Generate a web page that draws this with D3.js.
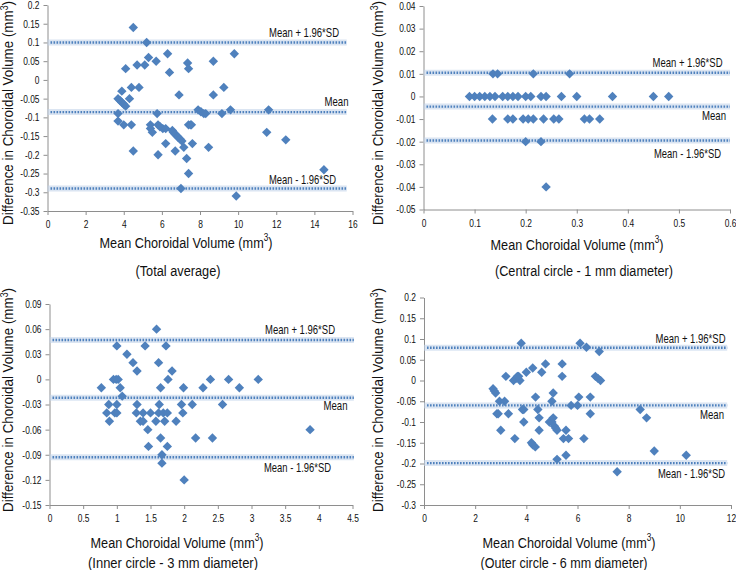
<!DOCTYPE html>
<html><head><meta charset="utf-8">
<script src="https://cdn.jsdelivr.net/npm/d3@7"></script>
<style>
body{margin:0;background:#fff}
text{font-family:"Liberation Sans",Arial,sans-serif;fill:#111}
</style>
</head><body><svg id="c" width="736" height="570"></svg>
<script>
// ---------- DATA ----------
const totalPoints = [[4.5,0.14],[5.2,0.10],[4.1,0.03],[4.7,0.04],[5.1,0.04],[5.3,0.06],[5.7,0.05],[6.3,0.07],[6.4,0.02],[6.9,-0.04],[3.9,-0.03],[4.4,-0.02],[4.8,-0.02],[4.3,-0.05],[3.7,-0.05],[3.8,-0.055],[3.9,-0.06],[4.0,-0.065],[4.1,-0.07],[3.7,-0.09],[3.7,-0.11],[4.0,-0.12],[4.4,-0.12],[4.5,-0.19],[5.75,-0.09],[5.4,-0.12],[5.4,-0.13],[5.5,-0.14],[5.8,-0.12],[5.9,-0.125],[6.05,-0.13],[6.2,-0.13],[6.2,-0.17],[5.8,-0.2],[6.55,-0.135],[6.6,-0.14],[6.7,-0.145],[6.8,-0.15],[6.85,-0.153],[6.95,-0.158],[7.05,-0.163],[6.7,-0.19],[7.15,-0.18],[7.3,-0.21],[7.4,-0.25],[7.0,-0.29],[7.4,-0.12],[7.35,0.045],[7.4,0.03],[8.7,0.05],[9.8,0.07],[9.25,-0.02],[8.7,-0.04],[7.9,-0.08],[8.05,-0.085],[8.2,-0.09],[8.3,-0.09],[9.15,-0.09],[9.6,-0.08],[11.6,-0.08],[7.5,-0.12],[7.55,-0.12],[7.6,-0.17],[8.45,-0.18],[11.5,-0.14],[12.5,-0.16],[9.9,-0.31],[14.5,-0.24]];
const centralPoints = [[0.136,0.01],[0.145,0.01],[0.215,0.01],[0.286,0.01],
 [0.09,0],[0.10,0],[0.11,0],[0.12,0],[0.13,0],[0.14,0],[0.155,0],[0.165,0],[0.175,0],[0.185,0],[0.2,0],[0.21,0],[0.23,0],[0.24,0],[0.27,0],[0.30,0],[0.37,0],[0.45,0],[0.48,0],
 [0.135,-0.01],[0.165,-0.01],[0.175,-0.01],[0.195,-0.01],[0.205,-0.01],[0.215,-0.01],[0.235,-0.01],[0.255,-0.01],[0.265,-0.01],[0.315,-0.01],[0.325,-0.01],[0.345,-0.01],
 [0.2,-0.02],[0.23,-0.02],[0.24,-0.04]];
const innerPoints = [[0.77,-0.01],[0.95,0],[0.99,0],[1.02,0],[1.0,0.04],[1.05,-0.01],[1.08,-0.02],[0.88,-0.03],[0.85,-0.04],[0.97,-0.04],[1.0,-0.04],[1.0,-0.03],[0.89,-0.05],[1.15,0.03],[1.24,0.02],[1.30,0.01],[1.3,-0.03],[1.29,-0.04],[1.35,-0.05],[1.39,-0.05],[1.39,-0.04],[1.42,0.04],[1.46,-0.06],[1.47,-0.08],[1.5,-0.04],[1.58,-0.05],[1.59,0.06],[1.62,0.02],[1.63,-0.03],[1.62,-0.04],[1.65,-0.01],[1.65,-0.07],[1.67,-0.09],[1.67,-0.1],[1.69,-0.04],[1.75,-0.04],[1.71,-0.05],[1.73,0.04],[1.76,0],[1.82,0.01],[1.75,-0.08],[1.88,-0.05],[1.96,-0.03],[1.98,-0.04],[1.99,-0.01],[2.0,-0.12],[2.12,-0.03],[2.28,-0.01],[2.39,0],[2.66,0],[2.82,-0.01],[3.10,0],[2.57,-0.03],[2.17,-0.07],[2.42,-0.07],[3.87,-0.06]];
const outerPoints = [[3.8,0.09],[2.7,-0.02],[2.75,-0.025],[2.8,-0.03],[2.95,-0.05],[3.15,-0.05],[2.85,-0.08],[2.9,-0.08],[3.3,-0.08],[3.0,-0.12],[3.2,0.01],[3.5,0],[3.6,0.005],[3.7,0.01],[3.75,0],[3.65,0.01],[3.85,-0.07],[3.9,-0.07],[3.9,-0.1],[3.55,-0.14],[4.0,0.02],[4.25,0.03],[4.36,-0.04],[4.45,-0.07],[4.5,-0.09],[4.5,-0.12],[4.2,-0.15],[4.25,-0.155],[4.35,-0.16],[4.6,0.02],[4.75,0.04],[5.05,-0.03],[5.0,-0.05],[4.9,-0.1],[5.0,-0.1],[5.1,-0.11],[5.15,-0.115],[5.2,-0.12],[5.05,-0.09],[5.2,-0.19],[5.4,0.04],[5.4,0.01],[6.1,0.09],[6.35,0.08],[6.85,0.07],[6.7,0.01],[6.8,0.005],[6.9,0],[6.05,-0.04],[6.5,-0.04],[5.75,-0.06],[6.0,-0.06],[6.5,-0.08],[5.55,-0.12],[5.45,-0.14],[5.65,-0.14],[6.25,-0.14],[5.55,-0.18],[8.45,-0.07],[8.7,-0.09],[9.0,-0.17],[10.25,-0.18],[7.55,-0.22]];

// limits: [mean + 1.96SD, mean, mean - 1.96SD]
const totalLimits = [0.10, -0.086, -0.29];
const centralLimits = [0.0105, -0.0045, -0.0195];
const innerLimits = [0.047, -0.022, -0.093];
const outerLimits = [0.079, -0.06, -0.199];
const limitNames = ["Mean + 1.96*SD", "Mean", "Mean - 1.96*SD"];

const totalXTicks = [0,2,4,6,8,10,12,14,16];
const totalYTicks = [0.2,0.15,0.1,0.05,0,-0.05,-0.1,-0.15,-0.2,-0.25,-0.3,-0.35];
const centralXTicks = [0,0.1,0.2,0.3,0.4,0.5,0.6];
const centralYTicks = [0.04,0.03,0.02,0.01,0,-0.01,-0.02,-0.03,-0.04,-0.05];
const innerXTicks = [0,0.5,1,1.5,2,2.5,3,3.5,4,4.5];
const innerYTicks = [0.09,0.06,0.03,0,-0.03,-0.06,-0.09,-0.12,-0.15];
const outerXTicks = [0,2,4,6,8,10,12];
const outerYTicks = [0.2,0.15,0.1,0.05,0,-0.05,-0.1,-0.15,-0.2,-0.25,-0.3];

const xTitle = "Mean Choroidal Volume (mm";
const yTitle = "Difference in Choroidal Volume (mm";
const subtitles = ["(Total average)", "(Central circle - 1 mm diameter)", "(Inner circle - 3 mm diameter)", "(Outer circle - 6 mm diameter)"];

// ---------- LAYOUT ----------
const panels = [
 {pts: totalPoints, lim: totalLimits, xt: totalXTicks, yt: totalYTicks, lineEnd: 15.7, sub: subtitles[0], subW: 85,
  L:47.5, R:352.5, T:5, B:211, yTitleX:12.5, yTitleY:113, xTitleX:186, xTitleY:243, subX:178, subY:270,
  labX:[339,348.5,336], labDy:[-9.5,-11,-9.5]},
 {pts: centralPoints, lim: centralLimits, xt: centralXTicks, yt: centralYTicks, lineEnd: 0.6, sub: subtitles[1], subW: 178,
  L:423.5, R:730, T:6, B:209.5, yTitleX:382.5, yTitleY:113, xTitleX:577, xTitleY:245, subX:584, subY:270,
  labX:[722.5,726,721], labDy:[-10.5,9,13]},
 {pts: innerPoints, lim: innerLimits, xt: innerXTicks, yt: innerYTicks, lineEnd: 4.52, sub: subtitles[2], subW: 170,
  L:49.5, R:352.5, T:304, B:505, yTitleX:12.5, yTitleY:400, xTitleX:177, xTitleY:543, subX:173, subY:562,
  labX:[335,347.5,331], labDy:[-10.5,8,10]},
 {pts: outerPoints, lim: outerLimits, xt: outerXTicks, yt: outerYTicks, lineEnd: 11.85, sub: subtitles[3], subW: 167,
  L:424, R:731, T:297.5, B:505, yTitleX:382.5, yTitleY:400, xTitleX:569, xTitleY:543, subX:564, subY:562,
  labX:[725.5,724,725], labDy:[-9,9,10]}
];
const limitLabelW = [70, 24, 67];

const svg = d3.select("#c");
const blue = "#4F81BD";
const axisColor = "#8e8e8e";
const diamond = r => `M0,${-r}L${r},0L0,${r}L${-r},0Z`;

// text with superscript 3, squeezed horizontally to a target width
function titleText(g, base, x, y, rot, width) {
  const t = g.append("text").attr("text-anchor", "middle").attr("dominant-baseline", rot ? null : "central")
    .style("font-size", "15.5px");
  t.append("tspan").text(base);
  t.append("tspan").attr("dy", -5).style("font-size", "10px").text("3");
  t.append("tspan").attr("dy", 5).text(")");
  const k = width / t.node().getComputedTextLength();
  t.attr("transform", `translate(${x},${y})${rot ? " rotate(-90)" : ""} scale(${k},1)`);
  return t;
}

panels.forEach(p => {
  const x = d3.scaleLinear().domain([p.xt[0], p.xt[p.xt.length-1]]).range([p.L, p.R]);
  const y = d3.scaleLinear().domain([d3.min(p.yt), d3.max(p.yt)]).range([p.B, p.T]);
  const g = svg.append("g");

  const ya = g.append("g").attr("transform", `translate(${p.L},0)`)
    .call(d3.axisLeft(y).tickValues(p.yt).tickSize(4).tickSizeOuter(0).tickFormat(d => String(d)));
  const xa = g.append("g").attr("transform", `translate(0,${p.B})`)
    .call(d3.axisBottom(x).tickValues(p.xt).tickSize(4).tickSizeOuter(0).tickFormat(d => String(d)));
  [ya, xa].forEach(a => {
    a.select(".domain").attr("stroke", axisColor).attr("stroke-width", 1);
    a.selectAll(".tick line").attr("stroke", axisColor);
    a.selectAll(".tick text").style("font-size", "10.5px").attr("fill", "#222")
      .style("font-family", '"Liberation Sans",Arial,sans-serif').attr("data-cond", "0.8");
  });
  ya.selectAll(".tick text").attr("x", -8);
  xa.selectAll(".tick text").attr("y", 10);

  p.lim.forEach((v, i) => {
    g.append("line").attr("x1", x(0)).attr("x2", x(p.lineEnd)).attr("y1", y(v)).attr("y2", y(v))
      .attr("stroke", "#c3d4ea").attr("stroke-opacity", 0.6).attr("stroke-width", 6);
    g.append("line").attr("x1", x(0) + 3).attr("x2", x(p.lineEnd)).attr("y1", y(v)).attr("y2", y(v))
      .attr("stroke", blue).attr("stroke-width", 2.4).attr("stroke-dasharray", "1.6,1.4");
    g.append("text").attr("x", p.labX[i]).attr("y", y(v) + p.labDy[i])
      .attr("text-anchor", "end").attr("dominant-baseline", "central")
      .attr("data-w", limitLabelW[i])
      .style("font-size", "13.5px").text(limitNames[i]);
  });

  g.append("g").selectAll("path").data(p.pts).join("path")
    .attr("d", diamond(4.7))
    .attr("transform", d => `translate(${x(d[0])},${y(d[1])})`)
    .attr("fill", blue);

  titleText(g, yTitle, p.yTitleX, p.yTitleY, true, 224);
  titleText(g, xTitle, p.xTitleX, p.xTitleY, false, 173);

  g.append("text").attr("x", p.subX).attr("y", p.subY)
    .attr("text-anchor", "middle").attr("dominant-baseline", "central")
    .attr("data-w", p.subW)
    .style("font-size", "15.5px").text(p.sub);
});

// condense single-run text to match the narrow typeface of the original
svg.selectAll("text").filter(function(){ return this.querySelector("tspan") == null; }).each(function() {
  const el = d3.select(this);
  const nat = this.getComputedTextLength();
  let w = el.attr("data-w");
  if (w == null) w = nat * (+el.attr("data-cond") || 0.82);
  el.attr("textLength", w).attr("lengthAdjust", "spacingAndGlyphs");
});
</script>
</body></html>
